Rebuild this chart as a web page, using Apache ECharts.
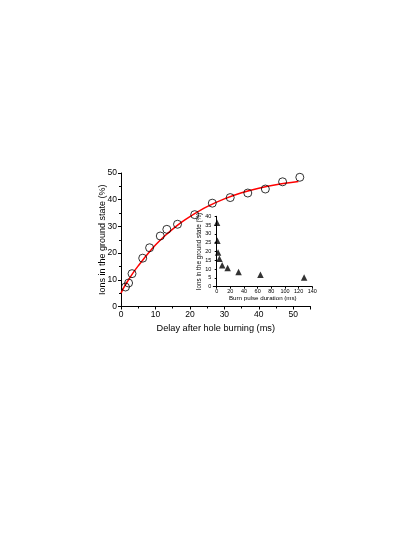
<!DOCTYPE html>
<html><head><meta charset="utf-8">
<script src="https://cdn.jsdelivr.net/npm/echarts@6/dist/echarts.min.js"></script>
<style>html,body{margin:0;padding:0;background:#fff}#c{width:415px;height:537px}</style>
</head><body><div id="c"></div>
<script>
// Main plot: ions in ground state vs delay
const delayMs = [1.3, 2.2, 3.2, 6.3, 8.3, 11.4, 13.3, 16.4, 21.4, 26.5, 31.7, 36.8, 41.9, 46.9, 51.9];
const groundPct = [7.3, 8.8, 12.3, 18.1, 22.0, 26.4, 28.9, 30.8, 34.4, 38.7, 40.8, 42.5, 44.0, 46.7, 48.4];
// Fitted curve
const fitX = [0, 1, 2, 3.5, 5, 7.5, 10, 12.5, 15, 17.5, 20, 25, 30, 35, 40, 45, 51.5];
const fitY = [5, 7.5, 9.6, 12.6, 15.2, 19.3, 23.0, 26.2, 29.0, 31.5, 33.7, 37.4, 40.3, 42.6, 44.3, 45.6, 46.8];
// Inset: ions in ground state vs burn pulse duration
const burnMs = [0.5, 1, 2, 4, 8, 16, 32, 64, 128];
const insetPct = [36.4, 26.1, 19.5, 15.9, 12.2, 10.6, 8.4, 6.8, 5.2];
const insetXTicks = [0, 20, 40, 60, 80, 100, 120, 140];

const F = '"Liberation Sans", Arial, sans-serif';
const zip = (a, b) => a.map((v, i) => [v, b[i]]);
const chart = echarts.init(document.getElementById('c'));
const axisCommon = {
  axisLine: {lineStyle: {color: '#000', width: 1}},
  minorTick: {show: true, splitNumber: 2, length: 2, lineStyle: {color: '#000'}},
  splitLine: {show: false},
  nameLocation: 'middle',
  nameMoveOverlap: false
};
chart.setOption({
  animation: false,
  grid: [
    {left: 121, top: 173, width: 189.5, height: 133.5},
    {left: 213.3, top: 216.3, width: 99, height: 70.4}
  ],
  xAxis: [
    Object.assign({}, axisCommon, {
      gridIndex: 0, type: 'value', min: 0, max: 55, interval: 10,
      axisTick: {length: 3, lineStyle: {color: '#000'}},
      axisLabel: {color: '#000', fontFamily: F, fontSize: 8.5, margin: 4,
        formatter: v => (v > 50 ? '' : v)},
      name: 'Delay after hole burning (ms)', nameGap: 17,
      nameTextStyle: {color: '#000', fontFamily: F, fontSize: 9.2}
    }),
    Object.assign({}, axisCommon, {
      gridIndex: 1, type: 'value', min: -5, max: 140,
      minorTick: {show: false},
      axisLabel: {color: '#000', fontFamily: F, fontSize: 5.5, margin: 2,
        customValues: insetXTicks},
      axisTick: {length: 2, customValues: insetXTicks, lineStyle: {color: '#000'}},
      name: 'Burn pulse duration (ms)', nameGap: 9,
      nameTextStyle: {color: '#000', fontFamily: F, fontSize: 6.2}
    })
  ],
  yAxis: [
    Object.assign({}, axisCommon, {
      gridIndex: 0, type: 'value', min: 0, max: 50, interval: 10,
      axisTick: {length: 3, lineStyle: {color: '#000'}},
      axisLabel: {color: '#000', fontFamily: F, fontSize: 8.5, margin: 4},
      name: 'Ions in the ground state (%)', nameGap: 14,
      nameTextStyle: {color: '#000', fontFamily: F, fontSize: 9}
    }),
    Object.assign({}, axisCommon, {
      gridIndex: 1, type: 'value', min: 0, max: 40, interval: 5,
      axisTick: {length: 2, lineStyle: {color: '#000'}},
      minorTick: {show: false},
      axisLabel: {color: '#000', fontFamily: F, fontSize: 5.5, margin: 2},
      name: 'Ions in the ground state (%)', nameGap: 11,
      nameTextStyle: {color: '#000', fontFamily: F, fontSize: 6.3}
    })
  ],
  series: [
    {type: 'line', xAxisIndex: 0, yAxisIndex: 0, data: zip(fitX, fitY), smooth: 0.3,
     showSymbol: false, lineStyle: {color: '#ff0000', width: 1.5}, z: 2},
    {type: 'scatter', xAxisIndex: 0, yAxisIndex: 0, data: zip(delayMs, groundPct),
     symbol: 'circle', symbolSize: 8,
     itemStyle: {color: 'rgba(255,255,255,0)', borderColor: '#000', borderWidth: 1}, z: 3},
    {type: 'scatter', xAxisIndex: 1, yAxisIndex: 1, data: zip(burnMs, insetPct),
     symbol: 'triangle', symbolSize: 6.5, itemStyle: {color: '#000'}, z: 3}
  ]
});
</script></body></html>
